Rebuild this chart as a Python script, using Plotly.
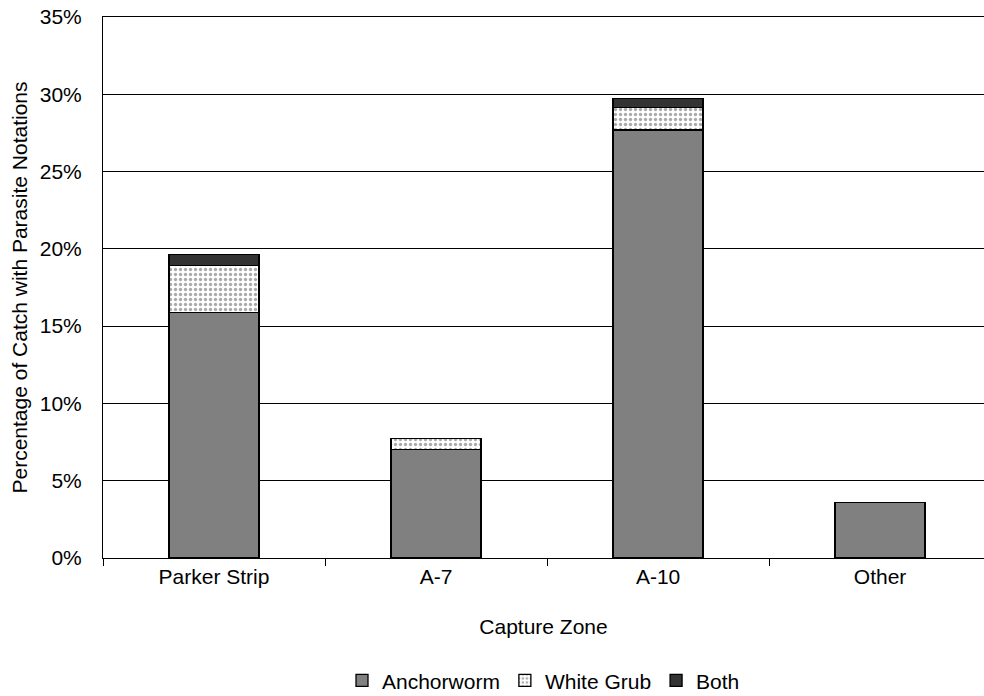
import plotly.graph_objects as go

categories = ["Parker Strip", "A-7", "A-10", "Other"]
anchorworm = [15.87, 7.03, 27.69, 3.58]
white_grub = [3.04, 0.71, 1.44, 0.0]
both = [0.74, 0.0, 0.61, 0.0]
y_ticks = [0, 5, 10, 15, 20, 25, 30, 35]
y_tick_labels = [f"{v}%" for v in y_ticks]

FONT = "Liberation Sans, Arial, sans-serif"
FS = 21

fig = go.Figure()
fig.add_trace(go.Bar(
    name="Anchorworm", x=categories, y=anchorworm, width=0.405,
    marker=dict(color="#808080", line=dict(color="#000000", width=1.3)),
))
fig.add_trace(go.Bar(
    name="White Grub", x=categories, y=white_grub, width=0.405,
    marker=dict(color="#ffffff", line=dict(color="#000000", width=1.3),
                pattern=dict(shape=".", fgcolor="#555555", bgcolor="#ffffff",
                             size=5, solidity=0.35)),
))
fig.add_trace(go.Bar(
    name="Both", x=categories, y=both, width=0.405,
    marker=dict(color="#333333", line=dict(color="#000000", width=1.3)),
))

fig.update_layout(
    barmode="stack",
    width=984, height=710,
    margin=dict(l=103, r=0, t=17, b=152),
    paper_bgcolor="white", plot_bgcolor="white",
    font=dict(family=FONT, size=FS, color="#000000"),
    showlegend=True,
    legend=dict(orientation="h", x=0.5, xanchor="center", y=-0.227, yanchor="middle",
                font=dict(size=FS), itemwidth=30, traceorder="normal"),
    xaxis=dict(
        range=[-0.5, 3.468], automargin=False,
        title=dict(text="Capture Zone", font=dict(size=FS), standoff=32),
        showline=True, linecolor="#000000", linewidth=1, mirror=True,
        ticks="outside", tickson="boundaries", ticklen=7, tickcolor="#000000",
        showgrid=False, tickfont=dict(size=FS),
    ),
    yaxis=dict(
        range=[0, 35], automargin=False,
        tickvals=y_ticks, ticktext=y_tick_labels,
        title=dict(text="Percentage of Catch with Parasite Notations", font=dict(size=FS), standoff=6),
        showline=True, linecolor="#000000", linewidth=1,
        ticks="", ticklabelstandoff=16, ticklabeloverflow="allow",
        showgrid=True, gridcolor="#000000", gridwidth=1,
        zeroline=False, tickfont=dict(size=FS),
    ),
)

fig.write_html("out.html", config={"displayModeBar": False},
               post_script="document.body.style.margin='0px';")
